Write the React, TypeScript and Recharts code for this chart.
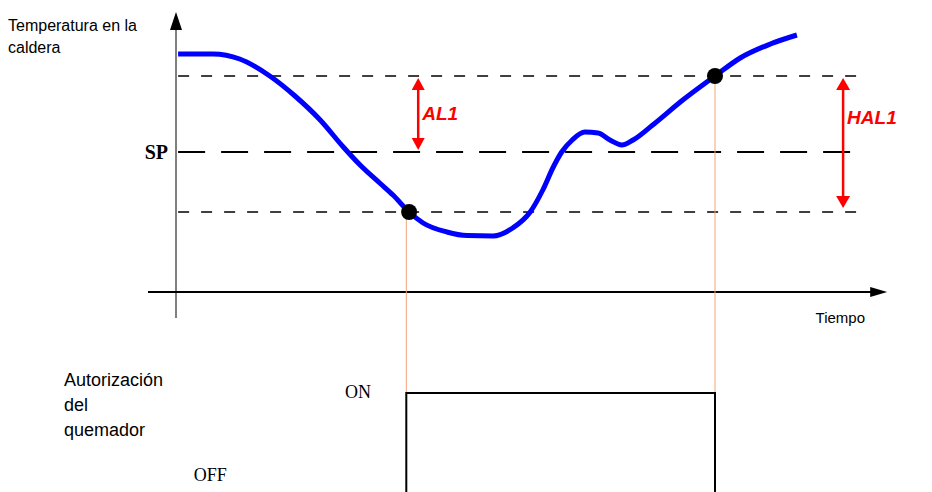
import { ComposedChart, LineChart, Line, Scatter, XAxis, YAxis, ReferenceLine, ReferenceDot } from 'recharts';

// Boiler temperature over time (arbitrary units)
const curveTime = [0.3, 5.3, 9.1, 13.4, 17, 20.6, 23.9, 26.3, 29.1, 31, 33.3, 35.3, 38.7, 41.6, 45.3, 48.1, 50.6, 52.4, 53.9, 55.1, 56.6, 58.4, 60.3, 62, 63.7, 65.3, 68.1, 72.4, 77, 80.6, 84.9, 88.7];
const curveTemp = [119, 119, 116.5, 108, 98, 86, 72.5, 63.5, 54.5, 48.5, 40, 34.5, 30, 28.2, 28, 32, 40, 51, 62.5, 70, 76, 80, 79.5, 76, 73.5, 76, 83.5, 96, 108, 117, 124, 128.5];

// Thresholds
const setPoint = 70;
const upperLimit = 108;
const lowerLimit = 40;

// Points where the burner authorisation switches
const switchTime = [33.3, 77];
const switchTemp = [40, 108];

// Burner authorisation signal (0 = OFF, 1 = ON)
const stepTime = [-4, 32.9, 32.9, 77, 77, 102];
const stepState = [0, 0, 1, 1, 0, 0];

const timeDomain: [number, number] = [-4, 102];
const tempDomain: [number, number] = [-15, 140];

const curveData = curveTime.map((t, i) => ({ t, T: curveTemp[i] }));
const switchData = switchTime.map((t, i) => ({ t, T: switchTemp[i] }));
const stepData = stepTime.map((t, i) => ({ t, s: stepState[i] }));

const SANS = '"Liberation Sans", Arial, sans-serif';
const SERIF = '"Liberation Serif", "Times New Roman", serif';
const RED = '#ff0000';
const ORANGE = '#f5a27a';

type ArrowOpts = { color: string; headColor?: string; width: number; len: number; half: number; start?: boolean; end?: boolean };

const arrowShape = (o: ArrowOpts) => (p: any) => {
  const { x1, y1, x2, y2 } = p;
  const dx = x2 - x1;
  const dy = y2 - y1;
  const d = Math.hypot(dx, dy) || 1;
  const ux = dx / d;
  const uy = dy / d;
  const head = (tx: number, ty: number, sx: number, sy: number) => {
    const bx = tx - sx * o.len;
    const by = ty - sy * o.len;
    return `${tx},${ty} ${bx - sy * o.half},${by + sx * o.half} ${bx + sy * o.half},${by - sx * o.half}`;
  };
  const lx1 = o.start ? x1 + ux * o.len * 0.6 : x1;
  const ly1 = o.start ? y1 + uy * o.len * 0.6 : y1;
  const lx2 = o.end ? x2 - ux * o.len * 0.6 : x2;
  const ly2 = o.end ? y2 - uy * o.len * 0.6 : y2;
  return (
    <g>
      <line x1={lx1} y1={ly1} x2={lx2} y2={ly2} stroke={o.color} strokeWidth={o.width} />
      {o.end && <polygon points={head(x2, y2, ux, uy)} fill={o.headColor ?? o.color} />}
      {o.start && <polygon points={head(x1, y1, -ux, -uy)} fill={o.headColor ?? o.color} />}
    </g>
  );
};

const redLabel = (value: string) => ({
  value,
  position: 'right' as const,
  offset: 4,
  fill: RED,
  fontSize: 19,
  fontWeight: 'bold',
  fontStyle: 'italic',
  fontFamily: SANS,
});

export default function App() {
  return (
    <div style={{ position: 'fixed', left: 0, top: 0, width: 932, height: 492, overflow: 'hidden', background: '#fff', fontFamily: SANS }}>
      <div style={{ position: 'absolute', left: 0, top: 0 }}>
        <ComposedChart width={932} height={340} margin={{ top: 12, right: 42, bottom: 18, left: 148 }}>
          <XAxis type="number" dataKey="t" domain={timeDomain} hide />
          <YAxis type="number" dataKey="T" domain={tempDomain} hide />

          <ReferenceLine segment={[{ x: 0.3, y: upperLimit }, { x: 98, y: upperLimit }]} stroke="#000" strokeWidth={1.4} strokeDasharray="11 12" ifOverflow="visible" />
          <ReferenceLine segment={[{ x: 0.3, y: lowerLimit }, { x: 98, y: lowerLimit }]} stroke="#000" strokeWidth={1.4} strokeDasharray="11 12" ifOverflow="visible" />
          <ReferenceLine
            segment={[{ x: 0.3, y: setPoint }, { x: 98.4, y: setPoint }]}
            stroke="#000"
            strokeWidth={2}
            strokeDasharray="27 16"
            ifOverflow="visible"
            label={{ value: 'SP', position: 'left', offset: 10, fill: '#000', fontSize: 20, fontWeight: 'bold', fontFamily: SERIF }}
          />

          <ReferenceLine segment={[{ x: 0, y: -13 }, { x: 0, y: 140 }]} ifOverflow="visible" shape={arrowShape({ color: '#7f7f7f', headColor: '#000', width: 2, len: 18, half: 6, end: true })} />
          <ReferenceLine segment={[{ x: -4, y: 0 }, { x: 101.6, y: 0 }]} ifOverflow="visible" shape={arrowShape({ color: '#000', width: 2, len: 17, half: 5, end: true })} />

          <ReferenceLine segment={[{ x: switchTime[0] - 0.4, y: switchTemp[0] }, { x: switchTime[0] - 0.4, y: -15 }]} stroke={ORANGE} strokeWidth={1} ifOverflow="visible" />
          <ReferenceLine segment={[{ x: switchTime[1], y: switchTemp[1] }, { x: switchTime[1], y: -15 }]} stroke={ORANGE} strokeWidth={1} ifOverflow="visible" />

          <ReferenceLine segment={[{ x: 34.6, y: 107 }, { x: 34.6, y: 71 }]} ifOverflow="visible" shape={arrowShape({ color: RED, width: 2.5, len: 12, half: 6.5, start: true, end: true })} />
          <ReferenceLine segment={[{ x: 95.3, y: 107 }, { x: 95.3, y: 42 }]} ifOverflow="visible" shape={arrowShape({ color: RED, width: 2.5, len: 12, half: 7, start: true, end: true })} />
          <ReferenceDot x={34.6} y={89.5} r={0} stroke="none" ifOverflow="visible" label={redLabel('AL1')} />
          <ReferenceDot x={95.3} y={87.5} r={0} stroke="none" ifOverflow="visible" label={redLabel('HAL1')} />

          <ReferenceDot x={94.9} y={-13} r={0} stroke="none" ifOverflow="visible" label={{ value: 'Tiempo', position: 'center', fill: '#000', fontSize: 15, fontFamily: SANS }} />

          <Line data={curveData} dataKey="T" type="monotone" stroke="#0000ff" strokeWidth={5} dot={false} isAnimationActive={false} />
          <Scatter data={switchData} dataKey="T" isAnimationActive={false} shape={(p: any) => <circle cx={p.cx} cy={p.cy} r={8} fill="#000" />} />
        </ComposedChart>
      </div>

      <div style={{ position: 'absolute', left: 8, top: 15, fontSize: 16, lineHeight: '22px', color: '#000' }}>
        Temperatura en la
        <br />
        caldera
      </div>

      <div style={{ position: 'absolute', left: 0, top: 322 }}>
        <LineChart width={932} height={180} margin={{ top: 71, right: 42, bottom: 2, left: 148 }}>
          <XAxis type="number" dataKey="t" domain={timeDomain} hide />
          <YAxis type="number" dataKey="s" domain={[0, 1]} hide />
          <ReferenceLine segment={[{ x: switchTime[0] - 0.4, y: 1 }, { x: switchTime[0] - 0.4, y: 1.8 }]} stroke={ORANGE} strokeWidth={1} ifOverflow="visible" />
          <ReferenceLine segment={[{ x: switchTime[1], y: 1 }, { x: switchTime[1], y: 1.8 }]} stroke={ORANGE} strokeWidth={1} ifOverflow="visible" />
          <ReferenceDot x={26} y={1.01} r={0} stroke="none" ifOverflow="visible" label={{ value: 'ON', position: 'center', fill: '#000', fontSize: 18, fontFamily: SERIF }} />
          <ReferenceDot x={4.9} y={0.234} r={0} stroke="none" ifOverflow="visible" label={{ value: 'OFF', position: 'center', fill: '#000', fontSize: 18, fontFamily: SERIF }} />
          <Line data={stepData} dataKey="s" type="linear" stroke="#000" strokeWidth={2} dot={false} isAnimationActive={false} />
        </LineChart>
      </div>

      <div style={{ position: 'absolute', left: 64, top: 368, fontSize: 18, lineHeight: '25px', color: '#000' }}>
        Autorización
        <br />
        del
        <br />
        quemador
      </div>
    </div>
  );
}
